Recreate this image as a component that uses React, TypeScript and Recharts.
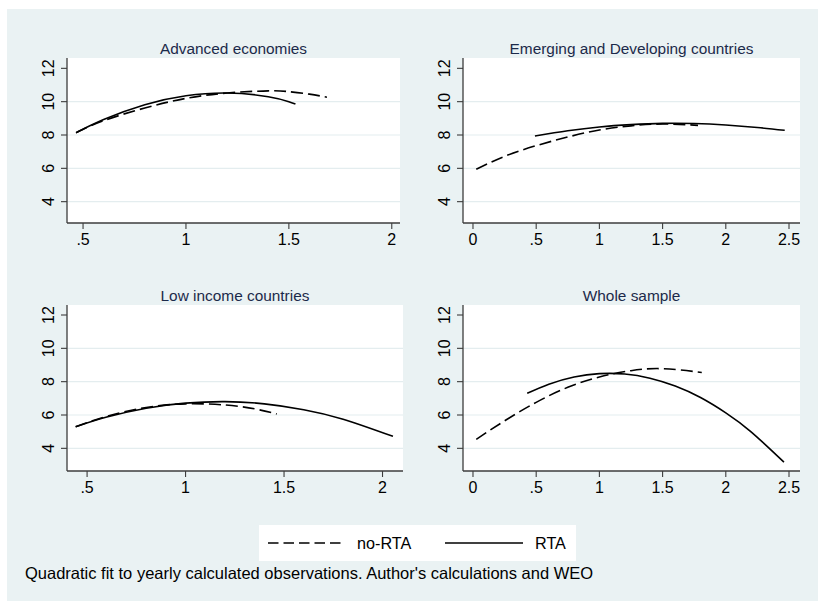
import React from 'react'
import { LineChart, Line, XAxis, YAxis, CartesianGrid } from 'recharts'

// values (x, fitted y)
const ADV_NORTA_X = [0.466, 0.6, 0.8, 1.0, 1.2, 1.4, 1.5, 1.6, 1.685]
const ADV_NORTA_Y = [8.14, 8.86, 9.62, 10.2, 10.52, 10.65, 10.6, 10.45, 10.27]
const ADV_RTA_X = [0.466, 0.6, 0.8, 1.0, 1.2, 1.4, 1.5, 1.532]
const ADV_RTA_Y = [8.14, 8.93, 9.82, 10.35, 10.52, 10.3, 10.0, 9.86]

const EMG_NORTA_X = [0.026, 0.25, 0.5, 0.75, 1.0, 1.25, 1.5, 1.78]
const EMG_NORTA_Y = [5.94, 6.72, 7.36, 7.88, 8.3, 8.55, 8.66, 8.58]
const EMG_RTA_X = [0.49, 0.75, 1.0, 1.25, 1.5, 1.75, 2.0, 2.25, 2.466]
const EMG_RTA_Y = [7.94, 8.25, 8.48, 8.62, 8.7, 8.69, 8.6, 8.45, 8.28]

const LOW_NORTA_X = [0.442, 0.6, 0.8, 1.0, 1.2, 1.35, 1.463]
const LOW_NORTA_Y = [5.3, 5.92, 6.45, 6.67, 6.6, 6.37, 6.06]
const LOW_RTA_X = [0.442, 0.6, 0.8, 1.0, 1.2, 1.4, 1.6, 1.8, 2.053]
const LOW_RTA_Y = [5.3, 5.88, 6.41, 6.71, 6.8, 6.67, 6.32, 5.75, 4.72]

const ALL_NORTA_X = [0.026, 0.25, 0.5, 0.75, 1.0, 1.25, 1.5, 1.81]
const ALL_NORTA_Y = [4.54, 5.65, 6.76, 7.66, 8.28, 8.66, 8.78, 8.55]
const ALL_RTA_X = [0.429, 0.6, 0.8, 1.0, 1.2, 1.4, 1.6, 1.8, 2.0, 2.2, 2.46]
const ALL_RTA_Y = [7.3, 7.85, 8.28, 8.48, 8.46, 8.21, 7.74, 7.05, 6.13, 4.99, 3.17]

const Y_TICKS = [4, 6, 8, 10, 12]
const GRID_VALUES = [4, 6, 8, 10]
const X_TICKS_SHORT = [0.5, 1, 1.5, 2]
const X_TICKS_LONG = [0, 0.5, 1, 1.5, 2, 2.5]
const X_TICK_LABELS: Record<string, string> = {
  '0': '0', '0.5': '.5', '1': '1', '1.5': '1.5', '2': '2', '2.5': '2.5',
}

const TITLES = [
  'Advanced economies',
  'Emerging and Developing countries',
  'Low income countries',
  'Whole sample',
]
const LEGEND_LABELS = ['no-RTA', 'RTA']
const NOTE = "Quadratic fit to yearly calculated observations. Author's calculations and WEO"

const FONT = '"Liberation Sans", Arial, Helvetica, sans-serif'
const BG = '#eaf2f3'
const AXIS = '#3c3c3c'
const DASH = '12 5'
const Y_AXIS_W = 60

const pts = (xs: number[], ys: number[]) => xs.map((x, i) => ({ x, y: ys[i] }))

interface PanelProps {
  left: number
  top: number
  w: number
  h: number
  xDomain: [number, number]
  yDomain: [number, number]
  xTicks: number[]
  noRta: { x: number; y: number }[]
  rta: { x: number; y: number }[]
}

function Panel({ left, top, w, h, xDomain, yDomain, xTicks, noRta, rta }: PanelProps) {
  const xTick = (props: any) => (
    <text
      x={props.x}
      y={h + 22}
      textAnchor="middle"
      fontSize={16}
      fontFamily={FONT}
      fill="#000"
    >
      {X_TICK_LABELS[String(props.payload.value)]}
    </text>
  )
  const yTick = (props: any) => (
    <text
      transform={`translate(${Y_AXIS_W - 13},${props.y}) rotate(-90)`}
      textAnchor="middle"
      fontSize={16}
      fontFamily={FONT}
      fill="#000"
    >
      {props.payload.value}
    </text>
  )
  return (
    <div style={{ position: 'absolute', left: left - Y_AXIS_W, top }}>
      <LineChart
        width={Y_AXIS_W + w + 24}
        height={h + 40}
        margin={{ top: 0, right: 24, bottom: 0, left: 0 }}
      >
        <CartesianGrid
          vertical={false}
          horizontalValues={GRID_VALUES}
          stroke="#e4edef"
          strokeWidth={1.2}
          fill="#ffffff"
          fillOpacity={1}
        />
        <XAxis
          type="number"
          dataKey="x"
          domain={xDomain}
          ticks={xTicks}
          interval={0}
          allowDataOverflow
          height={40}
          tickSize={6}
          tick={xTick}
          axisLine={{ stroke: AXIS, strokeWidth: 1.3 }}
          tickLine={{ stroke: AXIS, strokeWidth: 1.1 }}
        />
        <YAxis
          type="number"
          domain={yDomain}
          ticks={Y_TICKS}
          interval={0}
          allowDataOverflow
          width={Y_AXIS_W}
          tickSize={6}
          tick={yTick}
          axisLine={{ stroke: AXIS, strokeWidth: 1.3 }}
          tickLine={{ stroke: AXIS, strokeWidth: 1.1 }}
        />
        <Line
          data={noRta}
          dataKey="y"
          type="natural"
          stroke="#000"
          strokeWidth={1.6}
          strokeDasharray={DASH}
          dot={false}
          activeDot={false}
          isAnimationActive={false}
        />
        <Line
          data={rta}
          dataKey="y"
          type="natural"
          stroke="#000"
          strokeWidth={1.6}
          dot={false}
          activeDot={false}
          isAnimationActive={false}
        />
      </LineChart>
    </div>
  )
}

const PANELS = [
  { left: 60, top: 49, w: 333, h: 165, xDomain: [0.422, 2.04], yDomain: [2.72, 12.62], xTicks: X_TICKS_SHORT, noRta: pts(ADV_NORTA_X, ADV_NORTA_Y), rta: pts(ADV_RTA_X, ADV_RTA_Y) },
  { left: 456, top: 49, w: 337, h: 165, xDomain: [-0.079, 2.587], yDomain: [2.72, 12.62], xTicks: X_TICKS_LONG, noRta: pts(EMG_NORTA_X, EMG_NORTA_Y), rta: pts(EMG_RTA_X, EMG_RTA_Y) },
  { left: 60, top: 296, w: 336, h: 166, xDomain: [0.398, 2.104], yDomain: [2.64, 12.6], xTicks: X_TICKS_SHORT, noRta: pts(LOW_NORTA_X, LOW_NORTA_Y), rta: pts(LOW_RTA_X, LOW_RTA_Y) },
  { left: 456, top: 296, w: 337, h: 166, xDomain: [-0.079, 2.587], yDomain: [2.64, 12.6], xTicks: X_TICKS_LONG, noRta: pts(ALL_NORTA_X, ALL_NORTA_Y), rta: pts(ALL_RTA_X, ALL_RTA_Y) },
] as const

export default function App() {
  return (
    <div style={{ position: 'absolute', left: 7, top: 9, width: 811, height: 592, background: BG, overflow: 'hidden' }}>
      <style>{'body{margin:0;overflow:hidden}'}</style>
      <svg width={811} height={592} style={{ position: 'absolute', left: 0, top: 0 }}>
        {PANELS.map((p, i) => (
          <text
            key={TITLES[i]}
            x={p.left + p.w / 2}
            y={p.top - 4.5}
            textAnchor="middle"
            fontSize={15.4}
            fontFamily={FONT}
            fill="#1c2a4a"
          >
            {TITLES[i]}
          </text>
        ))}
        <rect x={252} y={516} width={317} height={36} fill="#ffffff" />
        <line x1={261} x2={338} y1={534} y2={534} stroke="#000" strokeWidth={1.6} strokeDasharray="10.5 5" />
        <text x={350} y={540} fontSize={16.2} fontFamily={FONT} fill="#000">{LEGEND_LABELS[0]}</text>
        <line x1={438} x2={516} y1={534} y2={534} stroke="#000" strokeWidth={1.6} />
        <text x={528} y={540} fontSize={16.2} fontFamily={FONT} fill="#000">{LEGEND_LABELS[1]}</text>
        <text x={18} y={570} fontSize={16.5} fontFamily={FONT} fill="#000">{NOTE}</text>
      </svg>
      {PANELS.map((p, i) => (
        <Panel
          key={i}
          left={p.left}
          top={p.top}
          w={p.w}
          h={p.h}
          xDomain={p.xDomain as [number, number]}
          yDomain={p.yDomain as [number, number]}
          xTicks={p.xTicks as unknown as number[]}
          noRta={p.noRta as any}
          rta={p.rta as any}
        />
      ))}
    </div>
  )
}
